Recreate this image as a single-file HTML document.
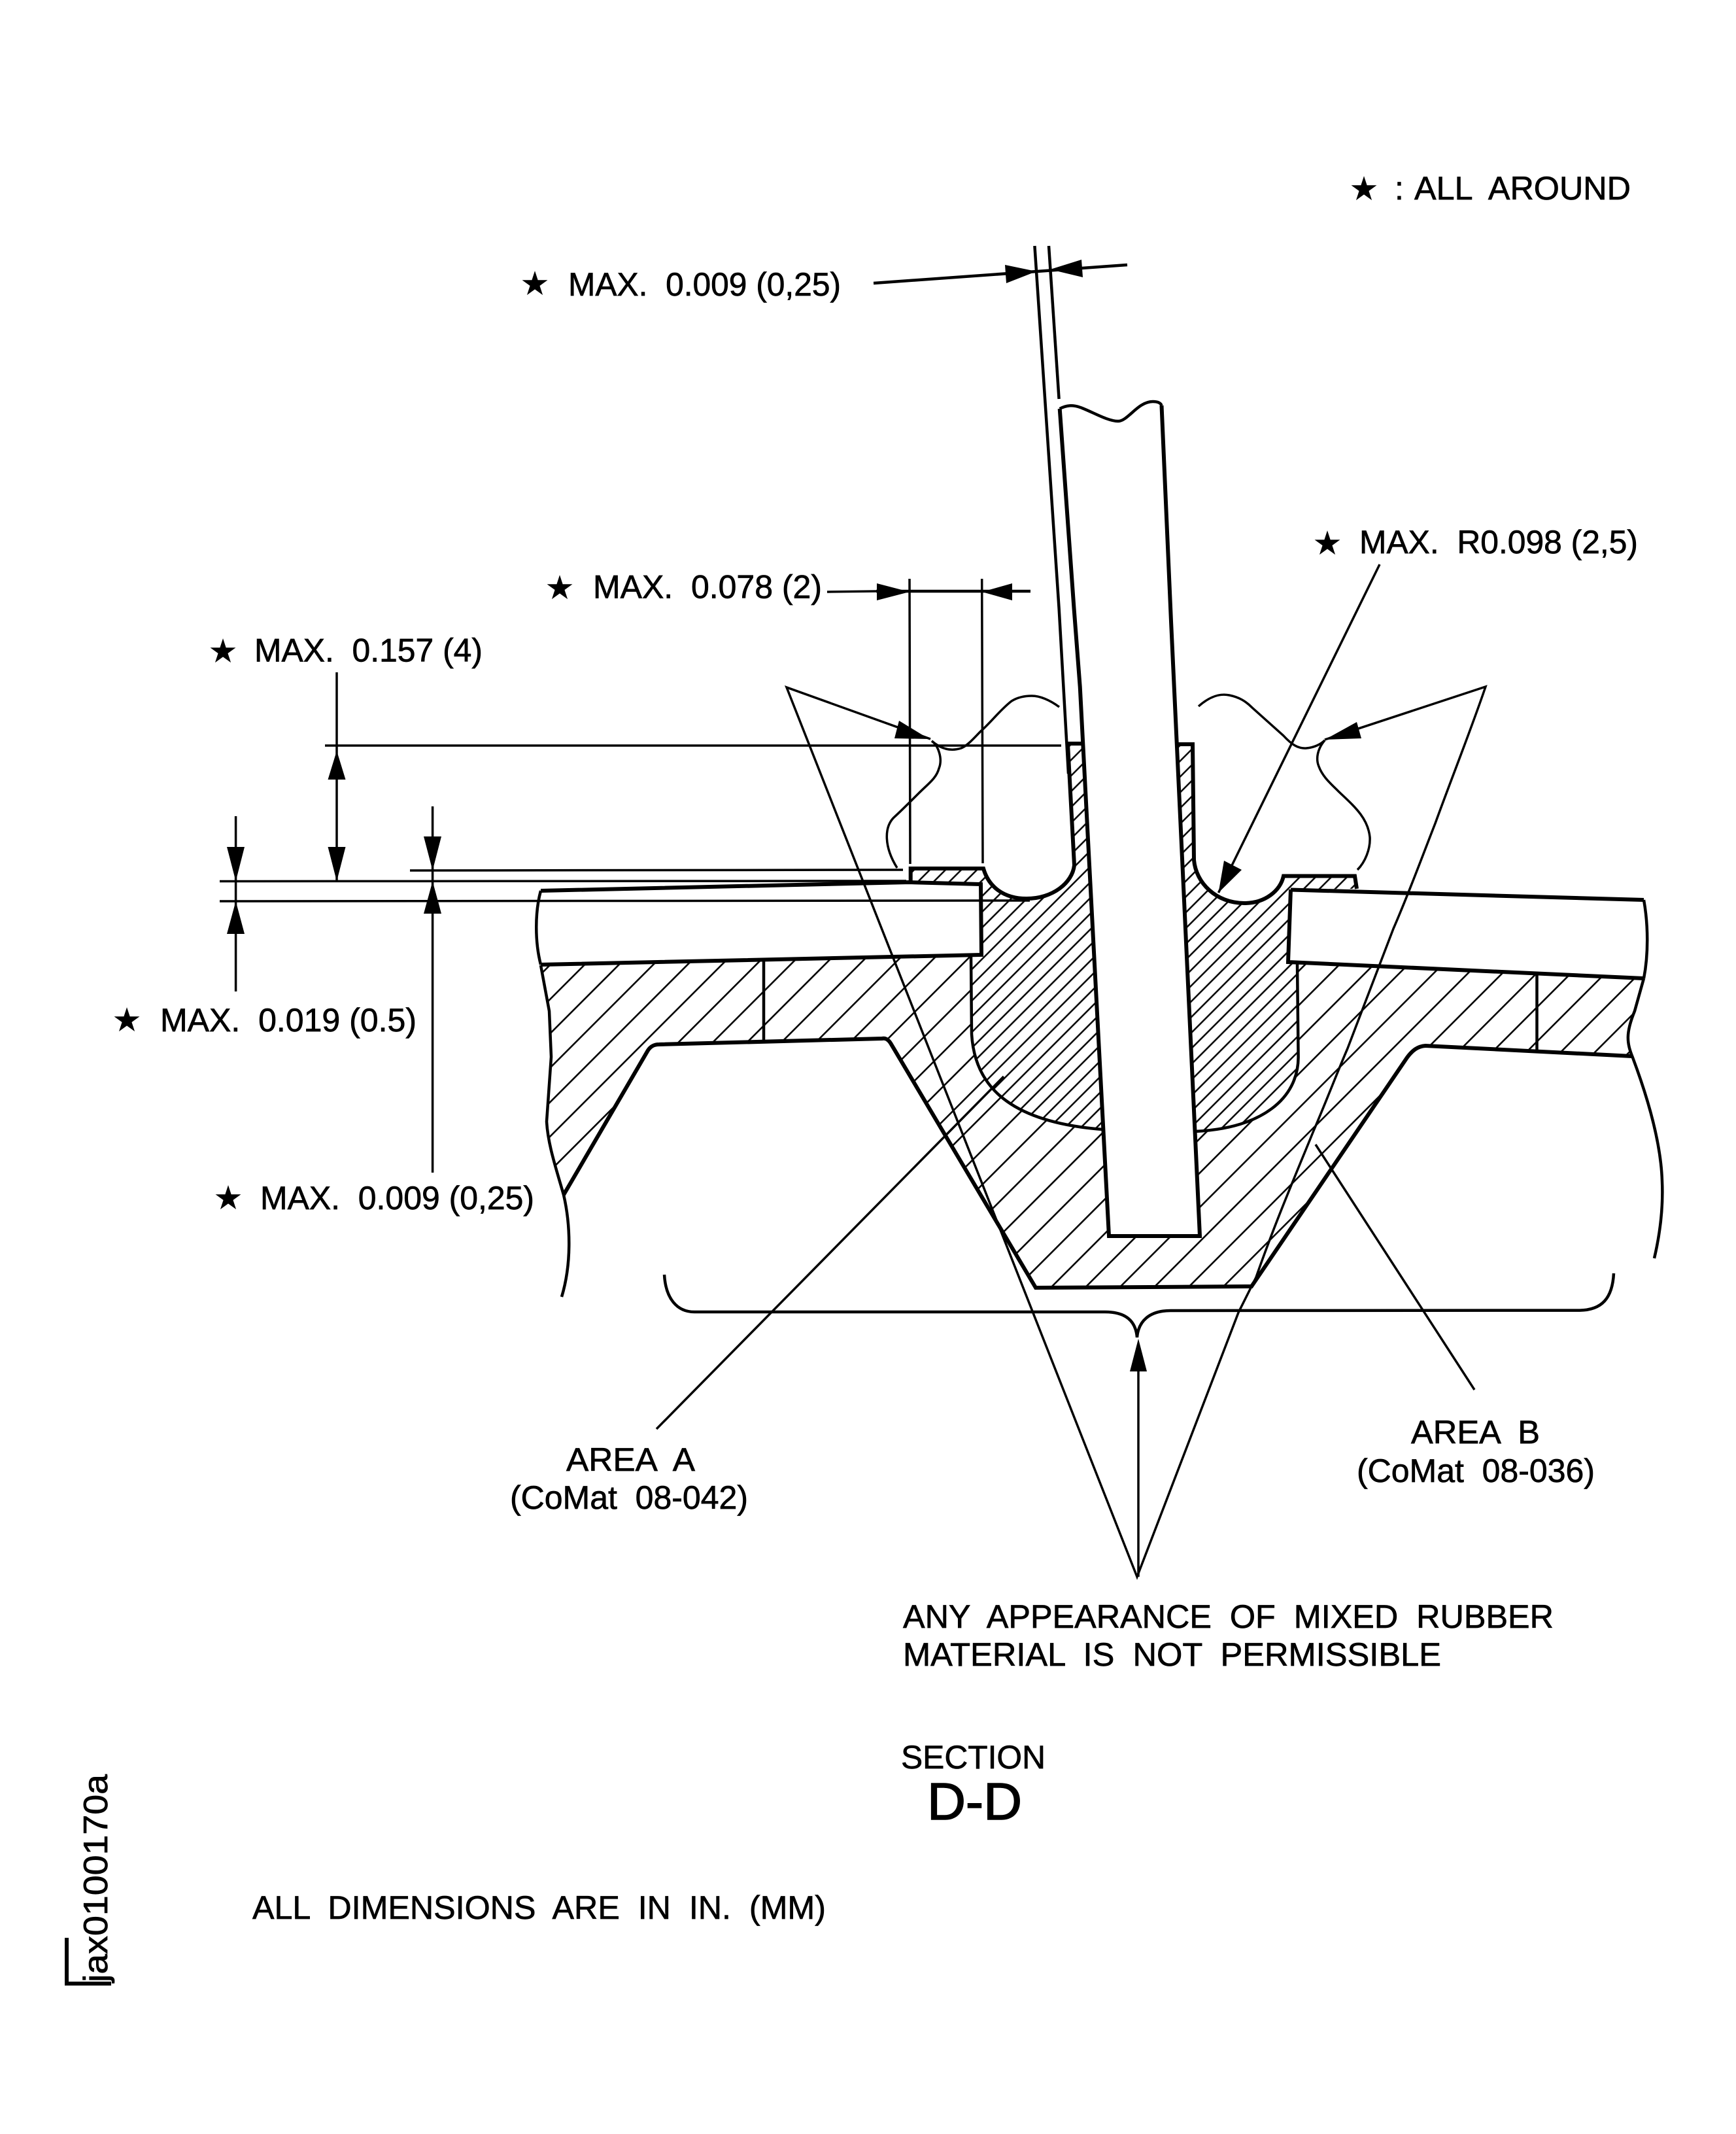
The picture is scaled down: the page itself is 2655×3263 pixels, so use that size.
<!DOCTYPE html>
<html><head><meta charset="utf-8"><style>
html,body{margin:0;padding:0;background:#fff}
svg{display:block}
text{font-family:"Liberation Sans",sans-serif;fill:#000;stroke:#000;stroke-width:.7}
.t{font-size:50px}
.s{font-family:"DejaVu Sans","Liberation Sans",sans-serif;font-size:48px;text-anchor:middle}
.th{fill:none;stroke:#000;stroke-width:3.5}
.md{fill:none;stroke:#000;stroke-width:4.5}
.hv{fill:none;stroke:#000;stroke-width:6}
.a{fill:#000;stroke:none}
</style></head><body>
<svg xmlns="http://www.w3.org/2000/svg" width="2655" height="3263" viewBox="0 0 2655 3263">
<defs>
<pattern id="w" width="37.1" height="37.1" patternUnits="userSpaceOnUse" patternTransform="rotate(-45)"><line x1="0" y1="5.7" x2="37.1" y2="5.7" stroke="#000" stroke-width="2.6"/></pattern>
<pattern id="f" width="17" height="17" patternUnits="userSpaceOnUse" patternTransform="rotate(-45)"><line x1="0" y1="8" x2="17" y2="8" stroke="#000" stroke-width="2.6"/></pattern>
</defs>
<rect width="2655" height="3263" fill="#fff"/>

<!-- hatch regions -->
<path fill="url(#w)" d="M827,1476 L1485,1461 L1486,1581 C1490,1650 1530,1715 1687,1727 L1696,1890 L1835,1890 L1828,1730 C1930,1725 1985,1680 1985.6,1617 L1984,1473 L2514,1496 L2500,1546 C2490,1570 2486,1590 2496,1615 L2180,1599 C2168,1600 2160,1606 2152,1617 L1914,1967 L1584,1969 L1362,1595 C1358,1589 1354,1587 1349,1588 L1008,1597 C1000,1597 995,1600 991,1606 L862,1827 C848,1785 836,1750 836,1715 L843,1616 L840,1546 Z"/>
<path fill="url(#f)" d="M1392,1349 L1393,1328 L1504,1328 C1512,1356 1535,1374 1570,1374 C1610,1374 1640,1350 1643,1323 L1633,1137 L1657,1137 L1672.7,1450 L1687,1727 C1530,1715 1490,1650 1486,1581 L1485,1461 L1501,1460 L1500,1352 Z"/>
<path fill="url(#f)" d="M1800,1138 L1824,1138 L1826,1315 C1829,1350 1860,1381 1903,1381 C1935,1381 1958,1362 1963,1339.5 L2072,1339.5 L2075,1359 L1974,1360 L1970,1471 L1984,1473 L1985.6,1617 C1985,1680 1930,1725 1828,1730 Z"/>

<!-- thin skin lines -->
<path class="md" d="M1582.4,376 L1619.6,930 L1634,1183"/>
<path class="md" d="M1604,376 L1619.6,610"/>

<!-- blade -->
<path class="md" d="M1620.7,625 C1630,620 1640,618 1655,624 C1675,632 1695,644 1710,644 C1725,644 1740,614 1763,614 C1770,614 1775,616 1776.5,620"/>
<path class="hv" d="M1776.5,620 L1791,950 L1835,1890 L1696,1890 L1672.7,1450 L1651.7,1050 L1642.5,930 L1620.7,625"/>

<!-- left groove -->
<path class="hv" d="M1392.7,1349 L1392.7,1328 L1504,1328 C1512,1356 1535,1374 1570,1374 C1610,1374 1640,1350 1643,1323 L1633,1137 L1657,1137"/>
<!-- right groove -->
<path class="hv" d="M1800,1138 L1824,1138 L1826,1315 C1829,1350 1860,1381 1903,1381 C1935,1381 1958,1362 1963,1339.5 L2072,1339.5 L2075,1359"/>

<!-- left plate -->
<path class="hv" d="M827,1362 L1390,1349 L1500,1352 L1501,1460 L827,1475"/>
<path class="md" d="M827,1362 C818,1395 818,1440 827,1475"/>
<path class="md" d="M1168,1469 L1168,1590"/>
<!-- right plate -->
<path class="hv" d="M1974,1360.5 L2514,1376 M1974,1360 L1970,1471 L2514,1496"/>
<path class="md" d="M2514,1376 C2521,1415 2521,1460 2514,1496"/>
<path class="md" d="M2350.5,1489 L2350.5,1608"/>

<!-- area boundaries -->
<path class="md" d="M1485,1461 L1486,1581 C1490,1650 1530,1715 1687,1727"/>
<path class="md" d="M1984,1473 L1985.6,1617 C1985,1680 1930,1725 1828,1730"/>

<!-- cavity outline -->
<path class="hv" d="M862,1827 L991,1606 C995,1600 1000,1597 1008,1597 L1349,1588 C1354,1587 1358,1589 1362,1595 L1584,1969 L1914,1967 L2152,1617 C2160,1606 2168,1600 2180,1599 L2496,1615"/>

<!-- break lines -->
<path class="md" d="M827,1476 L840,1546 L843,1616 L836,1715 C838,1750 850,1785 862,1827 C872,1870 875,1930 859,1983"/>
<path class="md" d="M2514,1496 L2500,1546 C2486,1580 2488,1595 2497,1617 C2515,1665 2540,1740 2542,1806 C2544,1850 2538,1890 2530,1924"/>

<!-- wavy outlines -->
<path class="th" d="M1620,1081 C1605,1070 1590,1064 1578,1064 C1565,1064 1555,1067 1547,1072 C1530,1085 1515,1105 1500,1118 C1490,1128 1480,1140 1470,1144 C1455,1149 1440,1146 1425,1133"/>
<path class="th" d="M1425,1133 C1435,1140 1442,1160 1436,1175 C1432,1190 1420,1198 1405,1213 C1390,1228 1378,1240 1367,1250 C1352,1265 1352,1295 1372,1327"/>
<path class="th" d="M1833,1080 C1850,1065 1865,1060 1880,1063 C1895,1066 1905,1072 1915,1082 L1963,1125 C1975,1138 1985,1145 1998,1144 C2010,1143 2020,1138 2026,1132"/>
<path class="th" d="M2026,1132 C2015,1145 2012,1160 2017,1172 C2023,1188 2035,1198 2047,1210 C2070,1232 2092,1250 2095,1280 C2096,1298 2088,1318 2076,1330"/>

<!-- mixed rubber triangle leaders -->
<path class="th" d="M1423,1130 L1203,1051 L1739,2411 L1894,2007 L1921,1953 C1950,1870 1980,1800 2009,1729 C2030,1680 2045,1640 2061,1603 C2085,1540 2110,1475 2131,1420 C2155,1365 2175,1310 2195,1259 C2220,1190 2250,1115 2272,1050 L2026,1131"/>
<path class="a" d="M1421,1130 L1375,1102 L1368,1129 Z"/>
<path class="a" d="M2026,1131 L2075,1104 L2082,1129 Z"/>

<!-- area leaders -->
<path class="th" d="M1535,1646 L1004,2185"/>
<path class="th" d="M2012,1750 L2255,2125"/>

<!-- brace -->
<path class="md" d="M1016,1949 C1018,1985 1035,2006 1062,2006 L1690,2006 C1722,2006 1737,2020 1739,2045 C1741,2020 1758,2004 1790,2004 L2416,2003.6 C2450,2003 2466,1985 2468,1947"/>
<path class="th" d="M1741,2090 L1741,2411"/>
<path class="a" d="M1741,2047 L1728,2097 L1754,2097 Z"/>

<!-- dims top -->
<path class="md" d="M1336,433 L1724,405"/>
<path class="a" d="M1585,415 L1537,405 L1539,433 Z M1606,412 L1654,397 L1656,424 Z"/>

<!-- 0.078 -->
<path class="th" d="M1265,905 L1340,904"/>
<path class="md" d="M1340,904 L1576,904"/>
<path class="a" d="M1391,905 L1341,892 L1341,918 Z M1501.7,905 L1548,892 L1548,918 Z"/>
<path class="th" d="M1391,885 L1392,1321 M1501.7,885 L1503,1320"/>

<!-- extension lines -->
<path class="th" d="M497,1140 L1623,1140"/>
<path class="th" d="M627,1331 L1381,1330"/>
<path class="th" d="M336,1347.5 L1386,1347"/>
<path class="th" d="M336,1378 L1575,1377"/>

<!-- 0.157 -->
<path class="th" d="M515,1028 L515,1347"/>
<path class="a" d="M515,1148 L501.5,1192 L528.5,1192 Z M515,1347.5 L501.5,1295 L528.5,1295 Z"/>
<!-- 0.019 -->
<path class="th" d="M360.6,1248 L360.6,1516"/>
<path class="a" d="M360.6,1347.5 L347,1295 L374,1295 Z M360.6,1378 L347,1428 L374,1428 Z"/>
<!-- 0.009 -->
<path class="th" d="M661.6,1233 L661.6,1793"/>
<path class="a" d="M661.6,1331 L648,1279 L675,1279 Z M661.6,1347.5 L648,1397 L675,1397 Z"/>

<!-- R0.098 -->
<path class="th" d="M2110,863 L1863.5,1365"/>
<path class="a" d="M1863.5,1365 L1872,1316 L1899,1330 Z"/>

<!-- text -->
<text class="s" x="2086" y="305">★</text>
<text class="t" x="2133" y="305">:</text>
<text class="t" x="2163" y="305" textLength="331" lengthAdjust="spacingAndGlyphs" xml:space="preserve">ALL  AROUND</text>

<text class="s" x="818" y="450">★</text>
<text class="t" x="869" y="452" textLength="417" lengthAdjust="spacingAndGlyphs" xml:space="preserve">MAX.  0.009 (0,25)</text>

<text class="s" x="2030" y="847">★</text>
<text class="t" x="2079" y="846" textLength="426" lengthAdjust="spacingAndGlyphs" xml:space="preserve">MAX.  R0.098 (2,5)</text>

<text class="s" x="856" y="915">★</text>
<text class="t" x="907" y="914.7" textLength="350" lengthAdjust="spacingAndGlyphs" xml:space="preserve">MAX.  0.078 (2)</text>

<text class="s" x="341" y="1012">★</text>
<text class="t" x="389" y="1011.7" textLength="349" lengthAdjust="spacingAndGlyphs" xml:space="preserve">MAX.  0.157 (4)</text>

<text class="s" x="194" y="1576">★</text>
<text class="t" x="245" y="1577" textLength="392" lengthAdjust="spacingAndGlyphs" xml:space="preserve">MAX.  0.019 (0.5)</text>

<text class="s" x="349" y="1848">★</text>
<text class="t" x="398" y="1849" textLength="419" lengthAdjust="spacingAndGlyphs" xml:space="preserve">MAX.  0.009 (0,25)</text>

<text class="t" x="866" y="2249" textLength="197" lengthAdjust="spacingAndGlyphs" xml:space="preserve">AREA  A</text>
<text class="t" x="780" y="2307" textLength="364" lengthAdjust="spacingAndGlyphs" xml:space="preserve">(CoMat  08-042)</text>
<text class="t" x="2158" y="2207" textLength="197" lengthAdjust="spacingAndGlyphs" xml:space="preserve">AREA  B</text>
<text class="t" x="2075" y="2266" textLength="364" lengthAdjust="spacingAndGlyphs" xml:space="preserve">(CoMat  08-036)</text>

<text class="t" x="1381" y="2489" textLength="995" lengthAdjust="spacingAndGlyphs" xml:space="preserve">ANY  APPEARANCE  OF  MIXED  RUBBER</text>
<text class="t" x="1381" y="2547" textLength="823" lengthAdjust="spacingAndGlyphs" xml:space="preserve">MATERIAL  IS  NOT  PERMISSIBLE</text>

<text class="t" x="1378" y="2704" textLength="221" lengthAdjust="spacingAndGlyphs">SECTION</text>
<text x="1418" y="2782" style="font-size:80px;stroke-width:1.6" textLength="145" lengthAdjust="spacingAndGlyphs">D-D</text>

<text class="t" x="386" y="2934" textLength="877" lengthAdjust="spacingAndGlyphs" xml:space="preserve">ALL  DIMENSIONS  ARE  IN  IN.  (MM)</text>

<text transform="translate(164,3031) rotate(-90)" style="font-size:52px" textLength="318" lengthAdjust="spacingAndGlyphs">jax0100170a</text>
<path class="hv" d="M102,2963 L102,3033 L170,3033"/>
</svg>
</body></html>
